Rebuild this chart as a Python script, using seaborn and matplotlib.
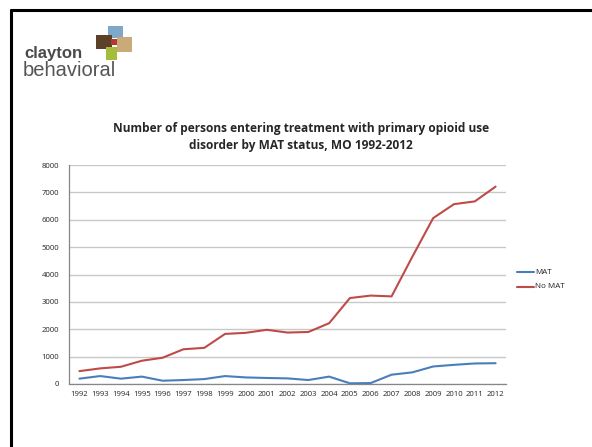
import numpy as np
import pandas as pd
import seaborn as sns
import matplotlib.pyplot as plt
from matplotlib.patches import Rectangle
from matplotlib.lines import Line2D

years = list(range(1992, 2013))
mat = [195, 290, 195, 270, 120, 145, 180, 290, 240, 220, 205, 145, 270, 25, 35, 340, 425, 640, 700, 750, 760]
no_mat = [470, 570, 630, 850, 960, 1270, 1320, 1830, 1870, 1980, 1880, 1900, 2220, 3140, 3230, 3200, 4650, 6060, 6570, 6670, 7210]
series_names = ["MAT", "No MAT"]
colors = ["#4a7ebb", "#be4b48"]
y_ticks = [0, 1000, 2000, 3000, 4000, 5000, 6000, 7000, 8000]

df = pd.DataFrame({"year": years * 2,
                   "count": mat + no_mat,
                   "status": ["MAT"] * len(years) + ["No MAT"] * len(years)})

sns.set_style("white")
plt.rcParams["font.family"] = ["Open Sans", "DejaVu Sans"]

fig = plt.figure(figsize=(5.92, 4.47), dpi=100)
fig.patch.set_facecolor("white")
W, H = 592, 447

# slide border (top and left)
fig.add_artist(Line2D([11 / W, 11 / W], [0, 1 - 10 / H], color="black", lw=2.2))
fig.add_artist(Line2D([11 / W, 1], [1 - 10 / H, 1 - 10 / H], color="black", lw=2.2))

# logo
def box(x0, y0, x1, y1, c):
    fig.add_artist(Rectangle((x0 / W, 1 - y1 / H), (x1 - x0) / W, (y1 - y0) / H,
                             transform=fig.transFigure, color=c, lw=0))
box(108, 26, 123, 38, "#7ea8c9")
box(117, 37, 132, 52, "#c9aa78")
box(96, 35, 112, 49, "#5a4128")
box(111, 39, 117, 45, "#b63a2b")
box(106, 47, 117, 60, "#a6bd3c")
fig.text(24 / W, 1 - 58 / H, "clayton", fontsize=12, fontweight="bold", color="#4a4a4a",
         family="Liberation Sans", va="baseline")
fig.text(23 / W, 1 - 76 / H, "behavioral", fontsize=14.5, color="#555555",
         family="Liberation Sans", va="baseline")

ax = fig.add_axes([69 / W, 1 - 384 / H, (506 - 69) / W, (384 - 165) / H])
sns.lineplot(data=df, x="year", y="count", hue="status", palette=colors, ax=ax,
             linewidth=1.5, legend=False)

ax.set_xlim(1991.5, 2012.5)
ax.set_ylim(0, 8000)
ax.set_yticks(y_ticks)
ax.set_yticklabels([str(v) for v in y_ticks], fontsize=5.6)
ax.set_xticks(years)
ax.set_xticklabels([str(y) for y in years], fontsize=5.6)
ax.set_xticks(np.arange(1991.5, 2013, 1), minor=True)
ax.tick_params(axis="x", which="major", length=0, pad=5)
ax.tick_params(axis="x", which="minor", length=3, color="#868686", direction="out")
ax.tick_params(axis="y", length=3, color="#868686", direction="out", pad=4)
ax.set_xlabel("")
ax.set_ylabel("")
ax.yaxis.grid(True, color="#c8c8c8", lw=1)
ax.set_axisbelow(True)
for s in ["top", "right"]:
    ax.spines[s].set_visible(False)
for s in ["left", "bottom"]:
    ax.spines[s].set_color("#868686")
    ax.spines[s].set_linewidth(0.9)

# legend
for i, (name, c) in enumerate(zip(series_names, colors)):
    yy = 1 - (272 + 15 * i) / H
    fig.add_artist(Line2D([517 / W, 534 / W], [yy, yy], color=c, lw=1.5))
    fig.text(535 / W, yy, name, fontsize=5.8, va="center", color="#222222")

fig.text(301 / W, 1 - 137 / H,
         "Number of persons entering treatment with primary opioid use\ndisorder by MAT status, MO 1992-2012",
         ha="center", va="center", fontsize=8.6, fontweight="bold", linespacing=1.4)

fig.savefig("out.png", dpi=100)
